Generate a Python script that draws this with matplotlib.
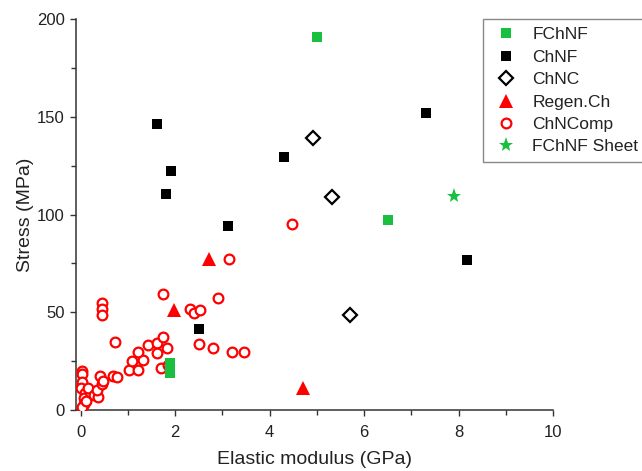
import matplotlib
matplotlib.use('Agg')
import matplotlib.pyplot as plt
from matplotlib.ticker import MultipleLocator

plt.rcParams['font.family'] = ['Liberation Sans', 'DejaVu Sans']

# elastic modulus (GPa) / stress (MPa) for each material group
fchnf_x = [5.01, 6.50, 1.90, 1.90]
fchnf_y = [191.1, 97.1, 24.2, 18.9]

chnf_x = [1.61, 1.91, 1.81, 3.11, 4.31, 7.31, 8.17, 2.51]
chnf_y = [146.3, 122.4, 110.4, 94.4, 129.4, 152.2, 76.8, 41.7]

chnc_x = [4.91, 5.31, 5.70]
chnc_y = [139.4, 109.2, 48.5]

regen_x = [2.72, 1.98, 4.71]
regen_y = [77.2, 51.2, 11.5]

comp_x = [0.02, 0.02, 0.02, 0.00, 0.09, 0.06, 0.07, 0.03, 0.12, 0.20,
          0.16, 0.28, 0.37, 0.34, 0.44, 0.41, 0.48, 0.69, 0.76, 0.73,
          0.44, 0.45, 0.45, 1.03, 1.22, 1.08, 1.32, 1.22, 1.43, 1.61,
          1.74, 1.82, 1.61, 1.71, 1.85, 1.75, 2.31, 2.40, 2.52, 2.51,
          2.81, 3.21, 3.46, 2.91, 3.15, 4.47]
comp_y = [20.0, 18.3, 14.2, 11.1, 8.5, 6.0, 2.9, 1.7, 4.5, 9.0,
          11.4, 7.7, 6.8, 10.2, 13.2, 17.6, 14.8, 17.6, 16.9, 34.7,
          54.6, 51.6, 48.5, 20.5, 20.5, 25.1, 25.6, 29.9, 33.3, 34.1,
          37.2, 31.6, 29.4, 21.7, 23.0, 59.2, 51.6, 49.5, 51.0, 33.8,
          31.6, 29.7, 29.7, 57.5, 77.2, 95.2]

sheet_x = [7.90]
sheet_y = [109.6]

green = '#19c040'
red = '#ff0000'

fig = plt.figure(figsize=(6.42, 4.71), dpi=100)
ax = fig.add_axes([76 / 642, 1 - 410 / 471, (553 - 76) / 642, (410 - 19.3) / 471])

ax.plot(comp_x, comp_y, 'o', ls='none', ms=7, mfc='white', mec=red, mew=1.6,
        label='ChNComp', zorder=3)
ax.plot(fchnf_x, fchnf_y, 's', ls='none', ms=7.5, color=green, mew=0,
        label='FChNF', zorder=4)
ax.plot(chnf_x, chnf_y, 's', ls='none', ms=7.5, color='black', mew=0,
        label='ChNF', zorder=4)
ax.plot(chnc_x, chnc_y, 'D', ls='none', ms=7, mfc='white', mec='black', mew=1.6,
        label='ChNC', zorder=4)
ax.plot(regen_x, regen_y, '^', ls='none', ms=10, color=red, mew=0,
        label='Regen.Ch', zorder=4)
ax.plot(sheet_x, sheet_y, '*', ls='none', ms=11, color=green, mew=0,
        label='FChNF Sheet', zorder=4)

ax.set_xlim(-0.1, 10)
ax.set_ylim(0, 200)
ax.xaxis.set_major_locator(MultipleLocator(2))
ax.xaxis.set_minor_locator(MultipleLocator(1))
ax.yaxis.set_major_locator(MultipleLocator(50))
ax.yaxis.set_minor_locator(MultipleLocator(25))

for side in ['top', 'right']:
    ax.spines[side].set_visible(False)
for side in ['left', 'bottom']:
    ax.spines[side].set_linewidth(1.1)
    ax.spines[side].set_color('#333333')

ax.tick_params(which='major', direction='out', length=4.5, width=1.0,
               colors='#333333', labelsize=12, labelcolor='#222222')
ax.tick_params(which='minor', direction='out', length=3.5, width=1.0,
               colors='#333333')
ax.tick_params(axis='x', which='major', pad=6)

ax.set_xlabel('Elastic modulus (GPa)', fontsize=14, color='#222222', labelpad=8)
ax.set_ylabel('Stress (MPa)', fontsize=14, color='#222222', labelpad=2)

# legend order follows the series list
handles, labels = ax.get_legend_handles_labels()
order = ['FChNF', 'ChNF', 'ChNC', 'Regen.Ch', 'ChNComp', 'FChNF Sheet']
hl = dict(zip(labels, handles))
leg = ax.legend([hl[k] for k in order], order, loc='upper left',
                bbox_to_anchor=(483 / 642, 1 - 19.3 / 471),
                bbox_transform=fig.transFigure, borderaxespad=0,
                fontsize=12.5, frameon=True, fancybox=False,
                edgecolor='#888888', framealpha=1, labelspacing=0.42,
                handlelength=1.8, handletextpad=0.6, borderpad=0.45,
                numpoints=1)
leg.get_frame().set_linewidth(1.0)
for t in leg.get_texts():
    t.set_color('#222222')

fig.savefig('out.png', dpi=100)
